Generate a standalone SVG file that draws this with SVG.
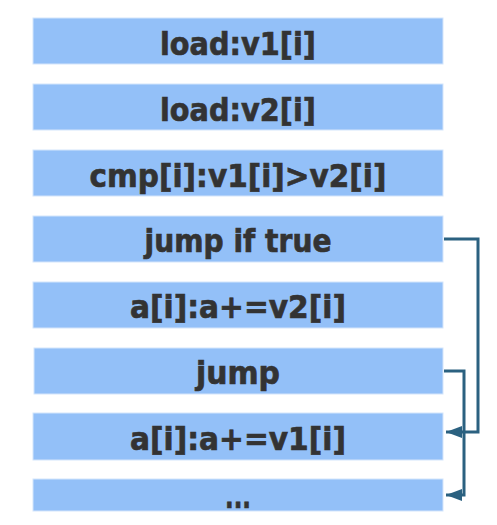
<svg xmlns="http://www.w3.org/2000/svg" width="497" height="525" viewBox="0 0 497 525">
<defs>
<style>
.box{fill:#93c0f8;stroke:#d4e5fb;stroke-width:1}
.t{font-family:"DejaVu Sans",Verdana,sans-serif;font-weight:bold;font-size:32px;fill:#333333;stroke:#333333;stroke-width:0.7;text-anchor:middle}
.c{fill:none;stroke:#2b6180;stroke-width:3}
</style>
<marker id="arr" viewBox="0 0 16 12" refX="16" refY="6" markerWidth="16" markerHeight="12" orient="auto" markerUnits="userSpaceOnUse">
<path d="M0,0 L16,6 L0,12 z" fill="#2b6180"/>
</marker>
</defs>
<g id="n1"><rect class="box" x="33" y="18" width="410" height="46"/><text class="t" x="238" y="55" textLength="156" lengthAdjust="spacingAndGlyphs">load:v1[i]</text></g>
<g id="n2"><rect class="box" x="33" y="84" width="410" height="46"/><text class="t" x="238" y="121" textLength="156" lengthAdjust="spacingAndGlyphs">load:v2[i]</text></g>
<g id="n3"><rect class="box" x="33" y="150" width="410" height="46"/><text class="t" x="238" y="187" textLength="297" lengthAdjust="spacingAndGlyphs">cmp[i]:v1[i]&gt;v2[i]</text></g>
<g id="n4"><rect class="box" x="33" y="216" width="410" height="46"/><text class="t" x="238" y="252" textLength="187" lengthAdjust="spacingAndGlyphs">jump if true</text></g>
<g id="n5"><rect class="box" x="33" y="282" width="410" height="46"/><text class="t" x="238" y="318" textLength="216" lengthAdjust="spacingAndGlyphs">a[i]:a+=v2[i]</text></g>
<g id="n6"><rect class="box" x="34" y="348" width="409" height="46"/><text class="t" x="238" y="384" textLength="84" lengthAdjust="spacingAndGlyphs">jump</text></g>
<g id="n7"><rect class="box" x="33" y="413" width="410" height="47"/><text class="t" x="238" y="450" textLength="216" lengthAdjust="spacingAndGlyphs">a[i]:a+=v1[i]</text></g>
<g id="n8"><rect class="box" x="33" y="479" width="410" height="32"/><text class="t" x="238" y="508" textLength="26" lengthAdjust="spacingAndGlyphs">...</text></g>
<g id="connectors">
<polyline class="c" points="444,239 478,239 478,432 446,432" marker-end="url(#arr)"/>
<polyline class="c" points="444,371 464,371 464,495 446,495" marker-end="url(#arr)"/>
</g>
</svg>
